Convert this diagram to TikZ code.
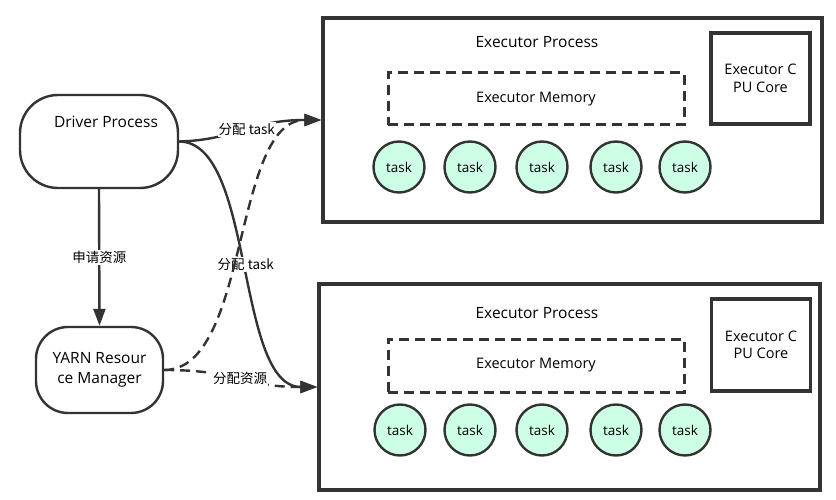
\documentclass[tikz,border=0pt]{standalone}
\usepackage{fontspec}
\setmainfont{Open Sans}
\newfontfamily\cjk{Noto Sans CJK SC}
\usetikzlibrary{arrows.meta}
\definecolor{ln}{HTML}{333333}
\definecolor{taskfill}{HTML}{CCFFE6}
\begin{document}
\begin{tikzpicture}[x=1pt,y=-1pt,
  bigbox/.style={draw=ln,line width=3.4pt,minimum width=#1,inner sep=0pt},
  membox/.style={draw=ln,line width=3pt,dash pattern=on 10pt off 6pt,minimum width=296pt,minimum height=52pt,font=\fontsize{14.5}{17}\selectfont},
  cpubox/.style={draw=ln,line width=3.4pt,minimum width=99pt,align=center,font=\fontsize{14.5}{17.5}\selectfont},
  tasknode/.style={circle,draw=ln,line width=2.4pt,fill=taskfill,minimum size=51pt,inner sep=0pt,font=\fontsize{13.5}{16}\selectfont},
  title/.style={font=\fontsize{15.5}{18}\selectfont},
  roundbox/.style={draw=ln,line width=2.4pt,rounded corners=#1},
  conn/.style={draw=ln,line width=2.4pt,-{Triangle[length=17pt,width=12pt]}},
  dconn/.style={conn,dash pattern=on 10pt off 6pt},
  elabel/.style={fill=white,inner sep=1pt,font=\cjk\fontsize{13.5}{16}\selectfont},
]
\useasboundingbox (0,0) rectangle (836,500);

% executor process 1
\node[bigbox=499pt,minimum height=204pt] (exec1) at (572.5,120) {};
\node[title] (title1) at (537,42) {Executor Process};
\node[membox] (mem1) at (536,99) {Executor Memory};
\node[cpubox,minimum height=91pt] (cpu1) at (760.5,78.5) {Executor C\\PU Core};
\foreach \x [count=\i] in {399,470,542,616,685}
  \node[tasknode] (t1\i) at (\x,167) {task};

% executor process 2
\node[bigbox=501pt,minimum height=206pt] (exec2) at (569.5,387) {};
\node[title] (title2) at (537,313) {Executor Process};
\node[membox,minimum height=53pt] (mem2) at (536,365.5) {Executor Memory};
\node[cpubox,minimum height=92pt] (cpu2) at (761,345) {Executor C\\PU Core};
\foreach \x [count=\i] in {400,470,542,616,685}
  \node[tasknode] (t2\i) at (\x,430) {task};

% driver and yarn
\node[roundbox=38pt,minimum width=158pt,minimum height=93pt] (driver) at (99,141.5) {};
\node[title] (drivertxt) at (106,122) {Driver Process};
\node[roundbox=32pt,minimum width=127pt,minimum height=86pt,align=center,font=\fontsize{15.5}{20}\selectfont] (yarn) at (99.5,370) {YARN Resour\\ce Manager};

% connectors
\draw[conn] (driver.south) -- node[elabel] {申请资源} (yarn.north);
\draw[conn] (driver.east) .. controls (255,142) and (235,387) .. node[elabel,pos=0.5] {分配 task} (exec2.west);
\draw[dconn] (yarn.east) .. controls (250,370) and (232,120) .. (exec1.west);
\draw[conn] (driver.east) .. controls (235,140) and (250,120) .. node[elabel,pos=0.52] {分配 task} (exec1.west);
\draw[dconn] (yarn.east) .. controls (240,370) and (240,387) .. node[elabel,pos=0.5] {分配资源} (exec2.west);
\end{tikzpicture}
\end{document}
